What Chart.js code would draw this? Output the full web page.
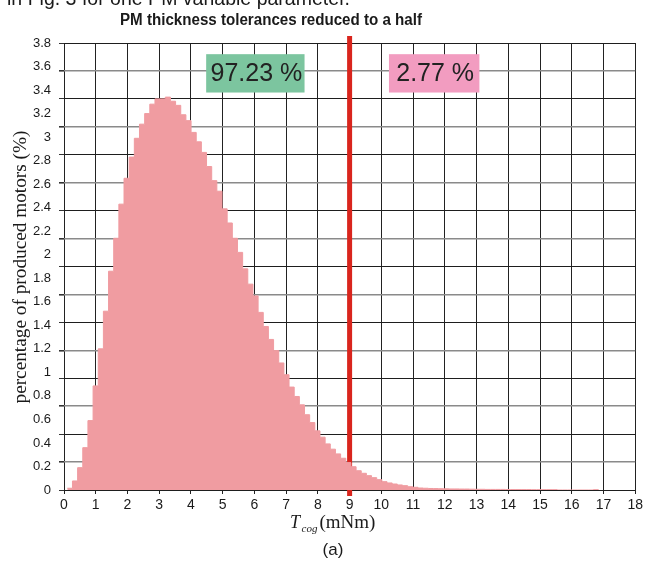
<!DOCTYPE html>
<html lang="en">
<head>
<meta charset="UTF-8">
<title>PM thickness tolerances reduced to a half</title>
<script src="https://cdn.jsdelivr.net/npm/chart.js"></script>
<style>
  html, body { margin: 0; padding: 0; background: #ffffff; }
  #chart { display: block; }
</style>
</head>
<body>
<canvas id="chart" width="646" height="568"></canvas>
<script>
  // Histogram of cogging torque T_cog (mNm): equal bins starting at binStart
  const binStart = 0.104;
  const binWidth = 0.1625;
  const binPercent = [
    0.015, 0.077, 0.19, 0.36, 0.59, 0.885, 1.20, 1.52, 1.86, 2.14,
    2.43, 2.65, 2.83, 2.99, 3.11, 3.20, 3.28, 3.325, 3.325, 3.34,
    3.305, 3.27, 3.19, 3.14, 3.04, 2.96, 2.87, 2.75, 2.63, 2.54,
    2.39, 2.27, 2.14, 2.02, 1.88, 1.75, 1.65, 1.51, 1.39, 1.28,
    1.185, 1.08, 0.98, 0.875, 0.795, 0.724, 0.64, 0.573, 0.503, 0.449,
    0.392, 0.347, 0.307, 0.27, 0.233, 0.198, 0.164, 0.142, 0.122, 0.105,
    0.088, 0.071, 0.06, 0.051, 0.043, 0.037, 0.028, 0.023, 0.017, 0.015,
    0.013, 0.012, 0.011, 0.010, 0.009, 0.009, 0.008, 0.008, 0.007, 0.006,
    0.006, 0.005, 0.005, 0.005, 0.005, 0.004, 0.004, 0.004, 0.004, 0.004,
    0.003, 0.003, 0.003, 0.003, 0.003, 0, 0, 0, 0, 0,
    0, 0, 0.003
  ];

  const threshold = 9;            // tolerance limit on T_cog
  const shareBelow = '97.23 %';
  const shareAbove = '2.77 %';

  const xTickValues = [0, 1, 2, 3, 4, 5, 6, 7, 8, 9, 10, 11, 12, 13, 14, 15, 16, 17, 18];
  const yTickValues = [0, 0.2, 0.4, 0.6, 0.8, 1, 1.2, 1.4, 1.6, 1.8, 2, 2.2, 2.4, 2.6, 2.8, 3, 3.2, 3.4, 3.6, 3.8];
  const gridRows = 16;

  // step outline: each point is a bin's left edge, closed with a zero at the last right edge
  const histPoints = binPercent.map((v, i) => ({ x: binStart + i * binWidth, y: v }));
  histPoints.push({ x: binStart + binPercent.length * binWidth, y: 0 });

  const SANS = '"Liberation Sans", Arial, Helvetica, sans-serif';
  const SERIF = '"Liberation Serif", "Times New Roman", serif';

  function fitText(ctx, text, cx, cy, width) {
    const w = ctx.measureText(text).width;
    ctx.save();
    ctx.translate(cx, cy);
    ctx.scale(width / w, 1);
    ctx.fillText(text, 0, 0);
    ctx.restore();
  }

  const annotate = {
    id: 'annotate',
    afterDatasetsDraw(chart) {
      const { ctx, scales: { x, y } } = chart;
      const boxes = [
        { text: shareBelow, x0: 4.48, x1: 7.58, fill: '#7cc59f' },
        { text: shareAbove, x0: 10.24, x1: 13.09, fill: '#f29cc0' }
      ];
      ctx.save();
      boxes.forEach(b => {
        const left = x.getPixelForValue(b.x0), right = x.getPixelForValue(b.x1);
        const top = y.getPixelForValue(3.705), bottom = y.getPixelForValue(3.379);
        ctx.fillStyle = b.fill;
        ctx.fillRect(left, top, right - left, bottom - top);
        ctx.fillStyle = '#222';
        ctx.font = '25px ' + SANS;
        ctx.textAlign = 'center';
        ctx.textBaseline = 'middle';
        ctx.fillText(b.text, (left + right) / 2 + 1, (top + bottom) / 2 + 1);
      });
      ctx.restore();
    },
    afterDraw(chart) {
      const ctx = chart.ctx;
      ctx.save();
      ctx.fillStyle = '#1a1a1a';

      // running text of the page, cut by the top edge
      ctx.font = '20px ' + SANS;
      ctx.textAlign = 'left';
      ctx.textBaseline = 'alphabetic';
      const lead = 'in Fig. 3 for one PM variable parameter.';
      ctx.save();
      ctx.translate(7, 5);
      ctx.scale(343 / ctx.measureText(lead).width, 1);
      ctx.fillText(lead, 0, 0);
      ctx.restore();

      // title
      ctx.font = 'bold 16px ' + SANS;
      ctx.textAlign = 'center';
      fitText(ctx, 'PM thickness tolerances reduced to a half', 271, 25, 302);

      // y axis title
      ctx.font = '18px ' + SERIF;
      ctx.textBaseline = 'middle';
      ctx.save();
      ctx.translate(21, 267);
      ctx.rotate(-Math.PI / 2);
      fitText(ctx, 'percentage of produced motors (%)', 0, 0, 273);
      ctx.restore();

      // x axis title: T_cog (mNm)
      ctx.textAlign = 'left';
      ctx.textBaseline = 'alphabetic';
      ctx.font = 'italic 18px ' + SERIF;
      ctx.fillText('T', 290, 528);
      ctx.font = 'italic 11px ' + SERIF;
      ctx.fillText('cog', 301.5, 532);
      ctx.font = '19px ' + SERIF;
      ctx.fillText('(mNm)', 319.5, 528);

      // panel label
      ctx.font = '17px ' + SANS;
      ctx.textAlign = 'center';
      ctx.fillText('(a)', 333, 555);
      ctx.restore();
    }
  };

  const ctx = document.getElementById('chart').getContext('2d');
  const chart = new Chart(ctx, {
    type: 'line',
    data: {
      datasets: [
        {
          label: 'T_cog histogram',
          data: histPoints,
          stepped: true,
          fill: 'origin',
          backgroundColor: '#f09ca1',
          borderColor: '#f09ca1',
          borderWidth: 1,
          pointRadius: 0
        },
        {
          label: 'limit',
          data: [{ x: threshold, y: -0.05 }, { x: threshold, y: 3.86 }],
          borderColor: '#d9251d',
          borderWidth: 5,
          borderCapStyle: 'butt',
          pointRadius: 0,
          clip: false
        }
      ]
    },
    options: {
      responsive: false,
      devicePixelRatio: 1,
      animation: false,
      layout: { padding: { top: 43, right: 9, left: 0, bottom: 0 } },
      plugins: {
        legend: { display: false },
        tooltip: { enabled: false }
      },
      scales: {
        x: {
          type: 'linear',
          min: 0,
          max: 18,
          afterBuildTicks: s => { s.ticks = xTickValues.map(v => ({ value: v })); },
          afterFit: s => { s.height = 78; },
          grid: { color: '#222', lineWidth: 1, tickLength: 4, tickColor: '#222' },
          border: { display: false },
          ticks: {
            color: '#1a1a1a',
            font: { family: '"Liberation Sans Narrow", "Liberation Sans", Arial', size: 14 },
            padding: 3,
            maxRotation: 0,
            autoSkip: false
          }
        },
        y: {
          type: 'linear',
          position: 'left',
          weight: 1,
          min: 0,
          max: 3.8,
          afterBuildTicks: s => { s.ticks = yTickValues.map(v => ({ value: v })); },
          afterFit: s => { s.width = 64; },
          grid: { display: false, drawTicks: false },
          border: { display: false },
          ticks: {
            color: '#1a1a1a',
            font: { family: SANS, size: 13 },
            padding: 13,
            callback: v => String(Number(v.toFixed(1)))
          }
        },
        yg: {
          type: 'linear',
          position: 'left',
          weight: 0,
          min: 0,
          max: gridRows,
          afterFit: s => { s.width = 0; },
          ticks: { display: false, stepSize: 1 },
          border: { display: false },
          grid: {
            color: c => (c.index % 2 ? '#8a8a8a' : '#1e1e1e'),
            lineWidth: c => (c.index % 2 ? 1.6 : 1),
            tickLength: 5,
            tickColor: '#333'
          }
        }
      }
    },
    plugins: [annotate]
  });
</script>
</body>
</html>
